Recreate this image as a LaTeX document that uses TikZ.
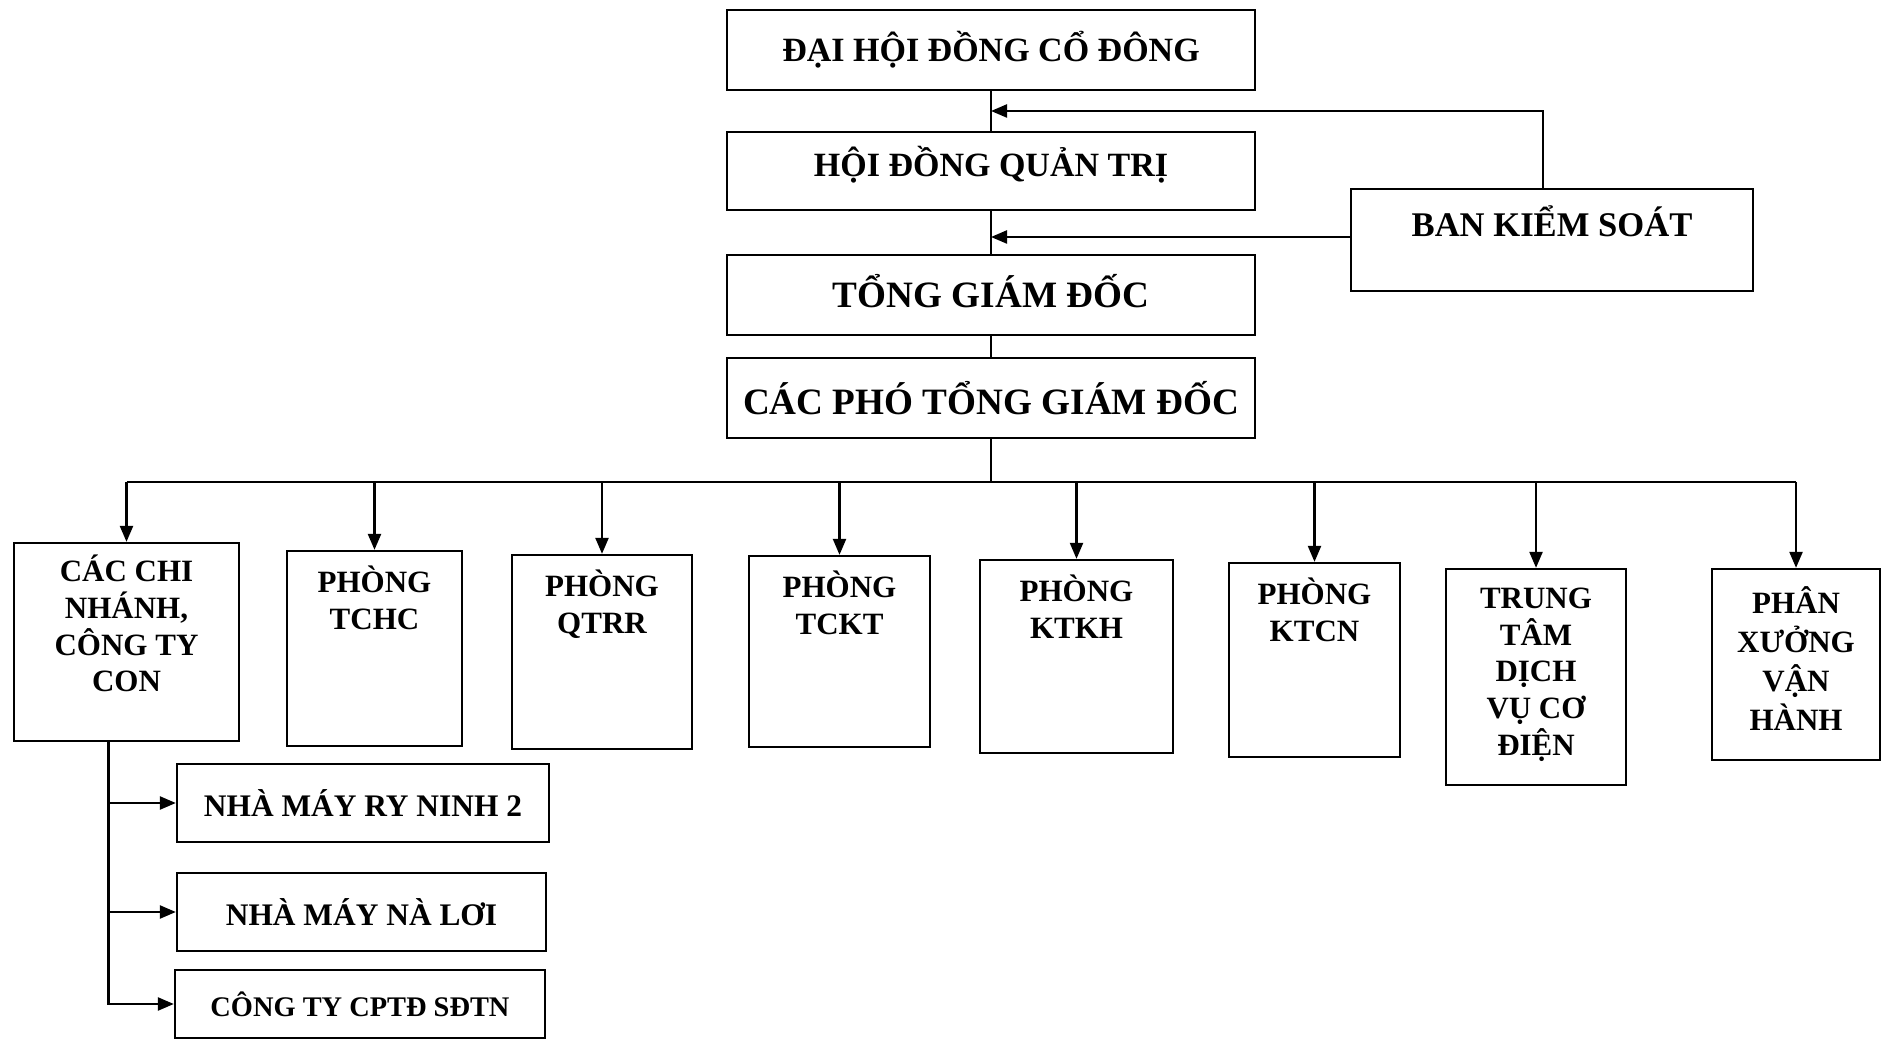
\documentclass[tikz,border=0pt]{standalone}
\usepackage{fontspec}
\setmainfont{Liberation Serif}
\usetikzlibrary{arrows.meta,calc}
\begin{document}
\begin{tikzpicture}[x=0.5pt,y=-0.5pt,
  box/.style={draw, line width=1.15pt, rectangle, inner sep=0pt},
  ttl/.style={font=\bfseries\fontsize{17}{20}\selectfont},
  big/.style={font=\bfseries\fontsize{18.6}{22}\selectfont},
  lbl/.style={anchor=north, inner sep=0pt, align=center, font=\bfseries\fontsize{15.5}{18.3}\selectfont},
  sub/.style={font=\bfseries\fontsize{15.7}{18}\selectfont},
  lnk/.style={line width=1.15pt},
  arr/.style={line width=1.15pt,-{Triangle[length=8pt,width=6.5pt]}},
  ]
\useasboundingbox (0,0) rectangle (1883,1042);
% top chain
\node[box, minimum width=264pt, minimum height=40pt, ttl] (dh) at (991,50) {ĐẠI HỘI ĐỒNG CỔ ĐÔNG};
\node[box, minimum width=264pt, minimum height=39pt, ttl, text height=16pt, text depth=10.5pt] (hd) at (991,171) {HỘI ĐỒNG QUẢN TRỊ};
\node[box, minimum width=264pt, minimum height=40pt, big, text height=18pt, text depth=5pt] (tgd) at (991,295) {TỔNG GIÁM ĐỐC};
\node[box, minimum width=264pt, minimum height=40pt, big] (pho) at (991,398) {CÁC PHÓ TỔNG GIÁM ĐỐC};
\node[box, minimum width=201pt, minimum height=51pt, font=\bfseries\fontsize{17.3}{20}\selectfont, text height=15pt, text depth=18pt] (bks) at (1552,240) {BAN KIỂM SOÁT};
\draw[lnk] (dh.south) -- (hd.north);
\draw[lnk] (hd.south) -- (tgd.north);
\draw[lnk] (tgd.south) -- (pho.north);
\draw[arr] ($(bks.north)+(-9,0)$) |- ($(dh.south)!0.5!(hd.north)$);
\draw[arr] ($(bks.west)+(0,-3)$) -- ($(bks.west -| hd.south)+(0,-3)$);
% children
\node[box, minimum width=112.5pt, minimum height=99pt] (cn) at (126.5,642) {};
\node[box, minimum width=87.5pt, minimum height=97.5pt] (tchc) at (374.5,648.5) {};
\node[box, minimum width=90pt, minimum height=97pt] (qtrr) at (602,652) {};
\node[box, minimum width=90.5pt, minimum height=95.5pt] (tckt) at (839.5,651.5) {};
\node[box, minimum width=96.5pt, minimum height=96.5pt] (ktkh) at (1076.5,656.5) {};
\node[box, minimum width=85.5pt, minimum height=97pt] (ktcn) at (1314.5,660) {};
\node[box, minimum width=90pt, minimum height=108pt] (tt) at (1536,677) {};
\node[box, minimum width=84pt, minimum height=95.5pt] (px) at (1796,664.5) {};
\node[lbl] (cnT) at ($(cn.north)+(0,13)$) {CÁC CHI\\NHÁNH,\\CÔNG TY\\CON};
\node[lbl] (tchcT) at ($(tchc.north)+(0,16)$) {PHÒNG\\TCHC};
\node[lbl] (qtrrT) at ($(qtrr.north)+(0,16)$) {PHÒNG\\QTRR};
\node[lbl] (tcktT) at ($(tckt.north)+(0,16)$) {PHÒNG\\TCKT};
\node[lbl] (ktkhT) at ($(ktkh.north)+(0,16)$) {PHÒNG\\KTKH};
\node[lbl] (ktcnT) at ($(ktcn.north)+(0,16)$) {PHÒNG\\KTCN};
\node[lbl] (ttT) at ($(tt.north)+(0,20)$) {TRUNG\\TÂM\\DỊCH\\VỤ CƠ\\ĐIỆN};
\node[lbl, font=\bfseries\fontsize{15.5}{19.6}\selectfont] (pxT) at ($(px.north)+(0,18)$) {PHÂN\\XƯỞNG\\VẬN\\HÀNH};
\coordinate (bus) at (991,482);
\draw[lnk] (pho.south) -- (bus);
\draw[lnk] (cn.north |- bus) -- (px.north |- bus);
\foreach \n in {cn,tchc,qtrr,tckt,ktkh,ktcn,tt,px}
  \draw[arr] (\n.north |- bus) -- (\n.north);
% sub units
\node[box, minimum width=186pt, minimum height=39pt, sub] (ry) at (363,803) {NHÀ MÁY RY NINH 2};
\node[box, minimum width=184.5pt, minimum height=39pt, sub] (nl) at (361.5,912) {NHÀ MÁY NÀ LƠI};
\node[box, minimum width=185pt, minimum height=34pt, font=\bfseries\fontsize{14.2}{17}\selectfont] (ct) at (360,1004) {CÔNG TY CPTĐ SĐTN};
\coordinate (v) at ($(cn.south)+(-18,0)$);
\draw[arr] (v) |- (ct.west);
\draw[arr] (ry.west -| v) -- (ry.west);
\draw[arr] (nl.west -| v) -- (nl.west);
\end{tikzpicture}
\end{document}
